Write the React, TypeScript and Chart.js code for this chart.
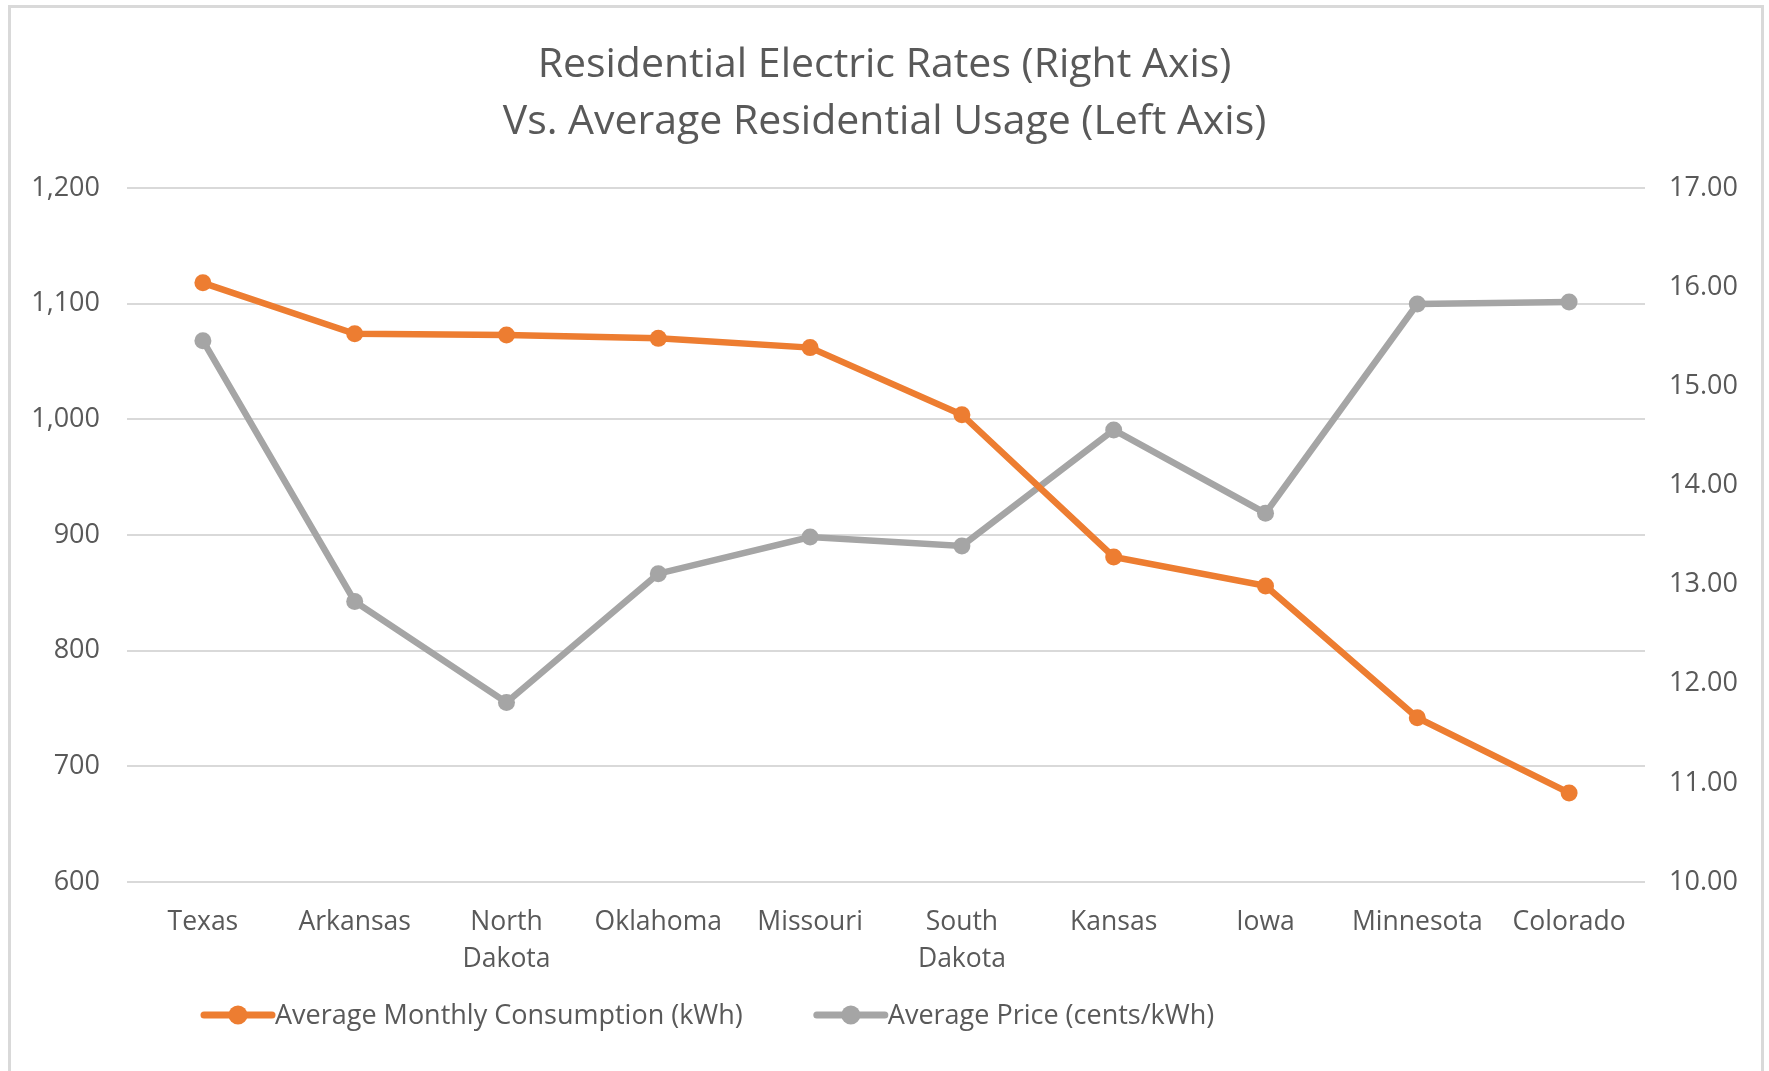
import React, { useEffect, useRef } from "react";
import { Chart, registerables } from "chart.js";

Chart.register(...registerables);

const titleLines = [
  "Residential Electric Rates (Right Axis)",
  "Vs. Average Residential Usage (Left Axis)",
];
const categories: (string | string[])[] = [
  "Texas",
  "Arkansas",
  ["North", "Dakota"],
  "Oklahoma",
  "Missouri",
  ["South", "Dakota"],
  "Kansas",
  "Iowa",
  "Minnesota",
  "Colorado",
];
const consumptionLabel = "Average Monthly Consumption (kWh)";
const consumption = [1118, 1074, 1073, 1070, 1062, 1004, 881, 856, 742, 677];
const priceLabel = "Average Price (cents/kWh)";
const price = [15.46, 12.83, 11.81, 13.11, 13.48, 13.39, 14.56, 13.72, 15.83, 15.85];
const leftTicks = { min: 600, max: 1200, step: 100 };
const rightTicks = { min: 10, max: 17, step: 1 };

const ORANGE = "#ED7D31";
const GRAY = "#A5A5A5";
const TEXT = "#595959";
const GRID = "#D9D9D9";
const FONT = "'Open Sans', 'Noto Sans', sans-serif";

const legendPlugin = {
  id: "excelLegend",
  afterDraw(chart: any) {
    const ctx = chart.ctx as CanvasRenderingContext2D;
    const y = chart.height - 56;
    let x = chart.chartArea.left + 74;
    ctx.save();
    ctx.font = `27px ${FONT}`;
    ctx.textBaseline = "middle";
    ctx.textAlign = "left";
    chart.data.datasets.forEach((ds: any) => {
      const w = 74;
      ctx.strokeStyle = ds.borderColor;
      ctx.lineWidth = 7;
      ctx.lineCap = "round";
      ctx.beginPath();
      ctx.moveTo(x + 3, y);
      ctx.lineTo(x + w - 3, y);
      ctx.stroke();
      ctx.fillStyle = ds.borderColor;
      ctx.beginPath();
      ctx.arc(x + w / 2, y, 9.5, 0, Math.PI * 2);
      ctx.fill();
      ctx.fillStyle = TEXT;
      ctx.fillText(ds.label, x + w, y + 1);
      x += w + ctx.measureText(ds.label).width + 71;
    });
    ctx.restore();
  },
};

export default function App() {
  const ref = useRef<HTMLCanvasElement | null>(null);
  useEffect(() => {
    if (!ref.current) return;
    const chart = new Chart(ref.current, {
      type: "line",
      data: {
        labels: categories as any,
        datasets: [
          {
            label: consumptionLabel,
            data: consumption,
            yAxisID: "y",
            borderColor: ORANGE,
            backgroundColor: ORANGE,
            borderWidth: 6.5,
            pointRadius: 8.5,
            pointBorderWidth: 0,
            pointBackgroundColor: ORANGE,
            tension: 0,
          },
          {
            label: priceLabel,
            data: price,
            yAxisID: "y1",
            borderColor: GRAY,
            backgroundColor: GRAY,
            borderWidth: 6.5,
            pointRadius: 8.5,
            pointBorderWidth: 0,
            pointBackgroundColor: GRAY,
            tension: 0,
          },
        ],
      },
      options: {
        responsive: false,
        animation: false,
        layout: { padding: { top: 0, bottom: 89, left: 0, right: 0 } },
        plugins: {
          legend: { display: false },
          tooltip: { enabled: false },
          title: {
            display: true,
            text: titleLines,
            color: TEXT,
            font: { family: FONT, size: 41, weight: "normal", lineHeight: 57 / 41 },
            padding: { top: 37, bottom: 37 },
          },
        },
        scales: {
          x: {
            offset: true,
            grid: { display: false, drawTicks: false },
            border: { display: false },
            ticks: {
              color: TEXT,
              font: { family: FONT, size: 26.5, lineHeight: 37 / 26.5 },
              padding: 22,
              maxRotation: 0,
              autoSkip: false,
            },
            afterFit: (s: any) => {
              s.height = 100;
            },
          },
          y: {
            position: "left",
            min: leftTicks.min,
            max: leftTicks.max,
            grid: { color: GRID, lineWidth: 2, drawTicks: false },
            border: { display: false },
            ticks: {
              stepSize: leftTicks.step,
              color: TEXT,
              font: { family: FONT, size: 27 },
              padding: 27,
              callback: (v: any) => Number(v).toLocaleString("en-US"),
            },
            afterFit: (s: any) => {
              s.width = 127;
            },
          },
          y1: {
            position: "right",
            min: rightTicks.min,
            max: rightTicks.max,
            grid: { display: false, drawTicks: false },
            border: { display: false },
            ticks: {
              stepSize: rightTicks.step,
              color: TEXT,
              font: { family: FONT, size: 27 },
              padding: 24,
              callback: (v: any) => Number(v).toFixed(2),
            },
            afterFit: (s: any) => {
              s.width = 124;
            },
          },
        },
      },
      plugins: [legendPlugin],
    });
    return () => chart.destroy();
  }, []);

  return (
    <div
      style={{
        position: "fixed",
        left: 0,
        top: 0,
        width: 1769,
        height: 1071,
        background: "#fff",
        overflow: "hidden",
      }}
    >
      <div
        style={{
          position: "absolute",
          left: 8,
          top: 5,
          width: 1756,
          height: 1080,
          border: `3px solid ${GRID}`,
          boxSizing: "border-box",
        }}
      />
      <canvas
        ref={ref}
        width={1769}
        height={1071}
        style={{ position: "absolute", left: 0, top: 0, width: 1769, height: 1071 }}
      />
    </div>
  );
}
